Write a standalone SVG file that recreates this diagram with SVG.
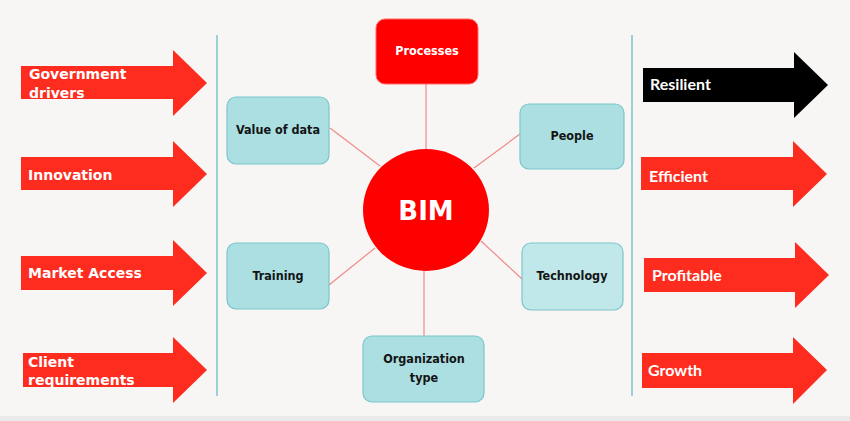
<svg xmlns="http://www.w3.org/2000/svg" width="850" height="421" viewBox="0 0 850 421">
<defs>
<style>
.bg{fill:#f8f6f5}
.arr{fill:#fe2c1f}
.arrk{fill:#000000}
.lt{font-family:"DejaVu Sans",Verdana,sans-serif;font-weight:bold;font-size:14px;fill:#ffffff}
.rt{font-family:Lato,"Open Sans",sans-serif;font-weight:bold;font-size:16px;fill:#ffffff}
.vl{stroke:#7cc3c8;stroke-width:1.5;fill:none}
.box{fill:#abdfe2;stroke:#7cc6cb;stroke-width:1.2}
.box2{fill:#c0e7e9;stroke:#7cc6cb;stroke-width:1.2}
.red{fill:#ff0000;stroke:#ff6a6a;stroke-width:1}
.nt{font-family:"DejaVu Sans Condensed","DejaVu Sans",sans-serif;font-weight:bold;font-size:12.5px;fill:#141414;text-anchor:middle}
.wt{font-family:"DejaVu Sans Condensed","DejaVu Sans",sans-serif;font-weight:bold;font-size:12.5px;fill:#ffffff;text-anchor:middle}
.bim{font-family:"DejaVu Sans",sans-serif;font-weight:bold;font-size:26px;fill:#ffffff;text-anchor:middle}
.con{stroke:#f08a8a;stroke-width:1.2;fill:none}
</style>
</defs>
<rect class="bg" x="0" y="0" width="850" height="421"/>
<rect x="0" y="416" width="850" height="5" fill="#ebebeb"/>
<g id="dividers">
<line class="vl" x1="217" y1="35" x2="217" y2="396"/>
<line class="vl" x1="632" y1="35" x2="632" y2="396"/>
</g>
<g id="connectors">
<line class="con" x1="426" y1="84" x2="426" y2="149"/>
<line class="con" x1="330" y1="128" x2="380" y2="166"/>
<line class="con" x1="520" y1="134" x2="474" y2="168"/>
<line class="con" x1="329" y1="285" x2="375" y2="248"/>
<line class="con" x1="522" y1="279" x2="481" y2="241"/>
<line class="con" x1="424" y1="270" x2="424" y2="336"/>
</g>
<g id="in-government">
<polygon class="arr" points="21,66 173,66 173,50 207,83 173,116 173,99 21,99"/>
<text class="lt" x="29" y="79">Government</text>
<text class="lt" x="29" y="98">drivers</text>
</g>
<g id="in-innovation">
<polygon class="arr" points="21,157 173,157 173,141 207,174 173,207 173,190 21,190"/>
<text class="lt" x="28" y="180">Innovation</text>
</g>
<g id="in-market">
<polygon class="arr" points="21,256 173,256 173,240 207,273 173,306 173,290 21,290"/>
<text class="lt" x="28" y="278">Market Access</text>
</g>
<g id="in-client">
<polygon class="arr" points="23,353 173,353 173,337 207,370 173,403 173,387 23,387"/>
<text class="lt" x="28" y="367">Client</text>
<text class="lt" x="28" y="385">requirements</text>
</g>
<g id="out-resilient">
<polygon class="arrk" points="643,68 794,68 794,52 828,85 794,118 794,102 643,102"/>
<text class="rt" x="650" y="90">Resilient</text>
</g>
<g id="out-efficient">
<polygon class="arr" points="641,157 793,157 793,141 827,174 793,207 793,190 641,190"/>
<text class="rt" x="649" y="182">Efficient</text>
</g>
<g id="out-profitable">
<polygon class="arr" points="644,258 795,258 795,242 829,275 795,308 795,292 644,292"/>
<text class="rt" x="652" y="281">Profitable</text>
</g>
<g id="out-growth">
<polygon class="arr" points="642,353 793,353 793,337 827,370 793,404 793,388 642,388"/>
<text class="rt" x="648" y="376">Growth</text>
</g>
<g id="node-processes">
<rect class="red" x="376" y="19" width="102" height="65" rx="9"/>
<text class="wt" x="427" y="55">Processes</text>
</g>
<g id="node-value">
<rect class="box" x="227" y="97" width="102" height="67" rx="9"/>
<text class="nt" x="278" y="134">Value of data</text>
</g>
<g id="node-people">
<rect class="box" x="520" y="104" width="104" height="65" rx="9"/>
<text class="nt" x="572" y="140">People</text>
</g>
<g id="node-bim">
<ellipse cx="426" cy="210" rx="63" ry="61" fill="#ff0000"/>
<text class="bim" x="426" y="220">BIM</text>
</g>
<g id="node-training">
<rect class="box" x="227" y="243" width="102" height="66" rx="9"/>
<text class="nt" x="278" y="280">Training</text>
</g>
<g id="node-technology">
<rect class="box2" x="522" y="243" width="101" height="67" rx="9"/>
<text class="nt" x="572" y="280">Technology</text>
</g>
<g id="node-organization">
<rect class="box" x="363" y="336" width="121" height="66" rx="9"/>
<text class="nt" x="424" y="363">Organization</text>
<text class="nt" x="424" y="382">type</text>
</g>
</svg>
